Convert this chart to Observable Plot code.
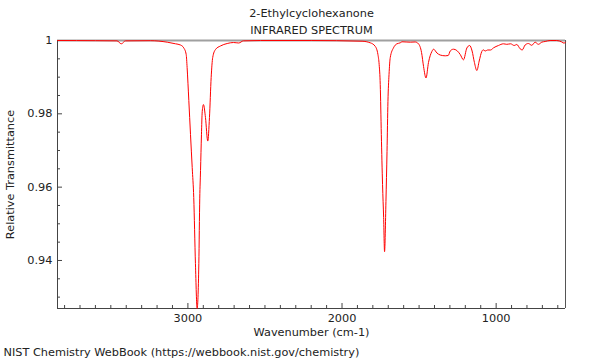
<!DOCTYPE html>
<html>
<head>
<meta charset="utf-8">
<script src="https://cdn.jsdelivr.net/npm/d3@7"></script>
<script src="https://cdn.jsdelivr.net/npm/@observablehq/plot@0.6"></script>
<style>
  html, body { margin: 0; padding: 0; background: white; }
</style>
</head>
<body>
<div id="chart"></div>
<script>
const title = "2-Ethylcyclohexanone";
const subtitle = "INFRARED SPECTRUM";
const caption = "NIST Chemistry WebBook (https://webbook.nist.gov/chemistry)";
const xLabel = "Wavenumber (cm-1)";
const yLabel = "Relative Transmittance";

const wavenumber = [3845, 3600, 3460, 3432, 3405, 3242, 3134, 3080, 3048, 3027, 3011, 3005, 2994, 2983, 2972, 2962, 2951, 2940, 2929, 2923, 2918, 2912, 2907, 2899, 2886, 2871, 2860, 2849, 2839, 2821, 2789, 2745, 2704, 2670, 2640, 2529, 2200, 1870, 1817, 1785, 1767, 1759, 1752, 1745, 1737, 1730, 1724, 1715, 1708, 1702, 1695, 1687, 1666, 1644, 1622, 1611, 1557, 1525, 1504, 1484, 1471, 1455, 1439, 1417, 1406, 1384, 1363, 1330, 1311, 1298, 1277, 1255, 1233, 1212, 1190, 1172, 1156, 1141, 1125, 1110, 1093, 1084, 1071, 1055, 1036, 1017, 985, 953, 931, 906, 883, 866, 844, 831, 812, 791, 769, 747, 726, 704, 682, 650, 607, 574, 559, 550];
const transmittance = [1.0, 0.99995, 0.9999, 0.9991, 0.9999, 0.99995, 0.99954, 0.9991, 0.99877, 0.9980, 0.99618, 0.99263, 0.98363, 0.97435, 0.96534, 0.95716, 0.93914, 0.9269, 0.93914, 0.9570, 0.9645, 0.9743, 0.9806, 0.98253, 0.9790, 0.97257, 0.9790, 0.9899, 0.99536, 0.99754, 0.9985, 0.99918, 0.99945, 0.99932, 0.9999, 1.0, 1.0, 0.9998, 0.99937, 0.99844, 0.99618, 0.99345, 0.988, 0.97435, 0.9607, 0.9517, 0.9424, 0.9561, 0.9697, 0.9834, 0.9907, 0.99536, 0.998, 0.9991, 0.99937, 0.99965, 0.99954, 0.9996, 0.9991, 0.99673, 0.9929, 0.98977, 0.9940, 0.9970, 0.99763, 0.99659, 0.99604, 0.99582, 0.9959, 0.99713, 0.99763, 0.99727, 0.99618, 0.99473, 0.99795, 0.99864, 0.99713, 0.9940, 0.99181, 0.9944, 0.997, 0.99746, 0.99713, 0.99741, 0.99741, 0.998, 0.99864, 0.9991, 0.99896, 0.9991, 0.99864, 0.99891, 0.99773, 0.99741, 0.99877, 0.99918, 0.99869, 0.99954, 0.99896, 0.99954, 0.99973, 1.0, 1.0, 0.9996, 0.99926, 0.99954];

const xDomain = [3846, 550];
const yDomain = [0.9269, 1.0];
const xMajor = [3000, 2000, 1000];
const xMinor = d3.range(6, 39).map(i => i * 100).filter(v => v % 1000 !== 0);
const yMajor = [0.94, 0.96, 0.98, 1];
const yMinor = d3.range(186, 200).filter(i => i % 4 !== 0).map(i => i / 200);

const spectrum = wavenumber.map((w, i) => ({w, t: transmittance[i]}));
const fs = 11.3;

const chart = Plot.plot({
  width: 600,
  height: 360,
  marginTop: 40,
  marginBottom: 52,
  marginLeft: 57,
  marginRight: 35,
  style: {fontFamily: "DejaVu Sans", fontSize: fs + "px", background: "white", color: "#222"},
  x: {domain: xDomain},
  y: {domain: yDomain},
  marks: [
    Plot.ruleY([yDomain[1]], {stroke: "#a0a0a0", strokeWidth: 2}),
    Plot.ruleX([xDomain[1]], {stroke: "#555"}),
    Plot.ruleX([xDomain[0]], {stroke: "#444"}),
    Plot.ruleY([yDomain[0]], {stroke: "#444"}),
    Plot.ruleX(xMajor, {x: d => d, insetTop: 263, stroke: "#444"}),
    Plot.ruleX(xMinor, {x: d => d, insetTop: 265, stroke: "#444"}),
    Plot.ruleY(yMajor.filter(d => d < 1), {y: d => d, insetRight: 503, stroke: "#444"}),
    Plot.ruleY(yMinor, {y: d => d, insetRight: 505, stroke: "#444"}),
    Plot.axisX(xMajor, {tickSize: 0, tickPadding: 5, label: null, tickFormat: d => String(d), fontSize: fs}),
    Plot.axisY(yMajor, {tickSize: 0, tickPadding: 5, label: null, tickFormat: d => String(d), fontSize: fs}),
    Plot.line(spectrum, {x: "w", y: "t", stroke: "red", strokeWidth: 1, curve: "monotone-x"}),
    Plot.text([title], {frameAnchor: "top", lineAnchor: "middle", dy: -27, fontSize: fs, fill: "#222"}),
    Plot.text([subtitle], {frameAnchor: "top", lineAnchor: "middle", dy: -10, fontSize: fs, fill: "#222"}),
    Plot.text([xLabel], {frameAnchor: "bottom", lineAnchor: "middle", dy: 24, fontSize: fs, fill: "#222"}),
    Plot.text([caption], {frameAnchor: "bottom-left", lineAnchor: "middle", dx: -54, dy: 44, textAnchor: "start", fontSize: fs, fill: "#222"}),
    Plot.text([yLabel], {frameAnchor: "left", lineAnchor: "middle", textAnchor: "middle", dx: -47, rotate: -90, fontSize: fs, fill: "#222"})
  ]
});
document.getElementById("chart").appendChild(chart);
</script>
</body>
</html>
